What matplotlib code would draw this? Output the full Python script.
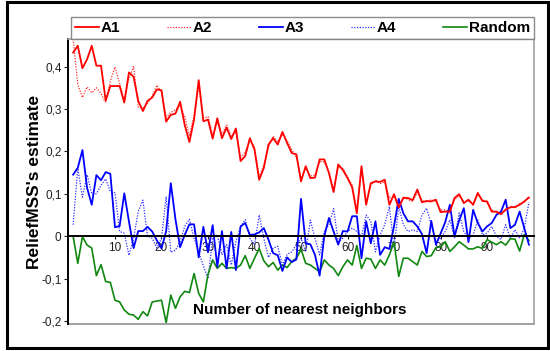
import numpy as np
import matplotlib
matplotlib.use('Agg')
import matplotlib.pyplot as plt
from matplotlib.patches import Rectangle
from matplotlib.ticker import FuncFormatter

plt.rcParams['font.family'] = ['Liberation Sans', 'DejaVu Sans']

# number of nearest neighbors k = 1..99
k = np.arange(1, 100)

a1 = [0.433, 0.449, 0.396, 0.417, 0.449, 0.402, 0.402, 0.320, 0.354, 0.354,
      0.354, 0.315, 0.386, 0.376, 0.319, 0.295, 0.319, 0.327, 0.346, 0.344,
      0.270, 0.286, 0.289, 0.317, 0.262, 0.222, 0.275, 0.368, 0.271, 0.275,
      0.230, 0.278, 0.231, 0.256, 0.229, 0.254, 0.177, 0.189, 0.231, 0.204,
      0.133, 0.161, 0.216, 0.231, 0.216, 0.246, 0.220, 0.196, 0.193, 0.129,
      0.165, 0.137, 0.138, 0.181, 0.181, 0.149, 0.104, 0.169, 0.156, 0.137,
      0.115, 0.054, 0.165, 0.074, 0.125, 0.129, 0.128, 0.133, 0.074, 0.099,
      0.068, 0.090, 0.090, 0.085, 0.110, 0.080, 0.083, 0.082, 0.086, 0.057,
      0.058, 0.058, 0.090, 0.099, 0.078, 0.086, 0.074, 0.102, 0.083, 0.082,
      0.058, 0.058, 0.052, 0.063, 0.068, 0.069, 0.074, 0.082, 0.091]

a2 = [0.465, 0.358, 0.327, 0.352, 0.338, 0.350, 0.336, 0.315, 0.366, 0.399,
      0.360, 0.320, 0.372, 0.400, 0.305, 0.302, 0.313, 0.330, 0.356, 0.340,
      0.280, 0.292, 0.298, 0.308, 0.282, 0.236, 0.285, 0.355, 0.278, 0.282,
      0.238, 0.268, 0.241, 0.262, 0.236, 0.245, 0.185, 0.198, 0.226, 0.210,
      0.140, 0.168, 0.210, 0.236, 0.222, 0.240, 0.226, 0.204, 0.186, 0.136,
      0.160, 0.142, 0.144, 0.176, 0.175, 0.152, 0.110, 0.163, 0.160, 0.140,
      0.120, 0.060, 0.158, 0.080, 0.120, 0.132, 0.124, 0.128, 0.090, 0.094,
      0.064, 0.094, 0.086, 0.082, 0.104, 0.084, 0.080, 0.086, 0.082, 0.062,
      0.062, 0.055, 0.086, 0.095, 0.082, 0.082, 0.078, 0.098, 0.086, 0.078,
      0.062, 0.055, 0.056, 0.060, 0.071, 0.066, 0.077, 0.079, 0.094]

a3 = [0.145, 0.161, 0.203, 0.114, 0.074, 0.144, 0.132, 0.151, 0.147, 0.021,
      0.024, 0.101, 0.035, -0.028, 0.012, 0.012, 0.022, 0.011, -0.010, -0.029,
      0.012, 0.125, 0.040, -0.026, 0.003, 0.028, 0.028, -0.050, 0.022, -0.038,
      0.026, -0.072, 0.012, -0.076, 0.010, -0.080, 0.023, 0.031, 0.003, 0.004,
      0.009, 0.019, -0.008, -0.040, -0.045, -0.082, -0.050, -0.061, -0.055, 0.088,
      -0.017, -0.019, -0.044, -0.093, 0.000, 0.043, 0.011, -0.020, 0.012, 0.011,
      0.047, 0.047, -0.052, 0.035, -0.017, 0.035, -0.044, -0.026, -0.030, 0.024,
      0.088, 0.054, 0.035, 0.035, 0.023, 0.005, -0.040, 0.036, -0.020, 0.006,
      0.033, 0.074, 0.000, 0.037, 0.066, -0.014, 0.062, 0.031, 0.011, 0.023,
      0.031, 0.050, 0.058, 0.086, 0.019, 0.027, 0.058, 0.019, -0.020]

a4 = [0.027, 0.160, 0.092, 0.145, 0.100, 0.100, 0.120, 0.135, 0.105, 0.102,
      0.011, 0.007, -0.045, -0.005, 0.058, 0.085, 0.000, -0.005, -0.028, -0.005,
      0.093, -0.038, -0.033, -0.013, 0.023, 0.040, -0.005, -0.037, -0.070, -0.100,
      -0.005, 0.003, -0.044, -0.020, -0.068, -0.013, 0.023, 0.039, -0.005, -0.020,
      0.050, -0.005, -0.050, -0.028, -0.024, -0.068, -0.043, -0.037, -0.020, -0.005,
      -0.037, 0.038, -0.005, -0.044, 0.011, 0.027, 0.065, -0.013, -0.005, 0.011,
      0.019, 0.011, -0.001, 0.050, 0.035, -0.037, 0.003, 0.027, 0.070, -0.028,
      0.070, 0.027, 0.011, 0.015, 0.011, 0.050, 0.066, 0.027, -0.013, -0.005,
      0.011, 0.039, -0.005, 0.055, 0.011, -0.005, 0.003, 0.038, 0.003, 0.007,
      0.023, 0.000, -0.008, 0.027, -0.005, 0.015, -0.005, 0.019, 0.080]

rnd = [0.000, -0.064, -0.001, -0.021, -0.028, -0.093, -0.067, -0.107, -0.109, -0.151,
       -0.155, -0.174, -0.184, -0.186, -0.196, -0.178, -0.188, -0.155, -0.153, -0.151,
       -0.204, -0.139, -0.170, -0.143, -0.130, -0.133, -0.088, -0.135, -0.155, -0.090,
       -0.056, -0.076, -0.064, -0.076, -0.074, -0.076, -0.068, -0.046, -0.076, -0.052,
       -0.029, -0.058, -0.072, -0.062, -0.080, -0.068, -0.074, -0.060, -0.052, -0.031,
       -0.064, -0.068, -0.076, -0.084, -0.056, -0.068, -0.076, -0.093, -0.072, -0.056,
       -0.068, -0.022, -0.076, -0.052, -0.054, -0.076, -0.056, -0.068, -0.044, -0.014,
       -0.095, -0.052, -0.052, -0.060, -0.068, -0.036, -0.048, -0.046, -0.027, -0.025,
       -0.013, -0.036, -0.025, -0.013, -0.021, -0.030, -0.030, -0.025, -0.029, -0.008,
       -0.014, -0.020, -0.013, -0.021, -0.006, -0.007, -0.035, 0.004, -0.010]

fig = plt.figure(figsize=(5.5, 3.51), dpi=100)
ax = fig.add_axes([0.1245, 0.077, 0.8465, 0.812])

ax.plot(k, a2, color='#ff3030', lw=0.9, ls=(0, (1, 1.2)), label='A2')
ax.plot(k, a4, color='#3030ff', lw=0.9, ls=(0, (1, 1.2)), label='A4')
ax.plot(k, rnd, color='#108810', lw=1.2, label='Random')
ax.plot(k, a3, color='#0000ff', lw=1.3, label='A3')
ax.plot(k, a1, color='#ff0000', lw=1.3, label='A1')

ax.set_xlim(0, 100.1)
ax.set_ylim(-0.207, 0.465)

# x axis crosses at zero, grey box around plot area
ax.spines['bottom'].set_position(('data', 0))
ax.spines['bottom'].set_color('black')
ax.spines['bottom'].set_linewidth(1.4)
ax.spines['left'].set_color('black')
ax.spines['left'].set_linewidth(1.4)
for s in ['top', 'right']:
    ax.spines[s].set_color('#a0a0a0')
    ax.spines[s].set_linewidth(1.2)
ax.plot([0, 1], [0, 0], transform=ax.transAxes, color='#a0a0a0', lw=1.4,
        clip_on=False)

ax.set_xticks(range(10, 100, 10))
ax.set_yticks([-0.2, -0.1, 0, 0.1, 0.2, 0.3, 0.4])
ax.yaxis.set_major_formatter(FuncFormatter(
    lambda v, _: '0' if abs(v) < 1e-9 else f'{v:.1f}'.replace('.', ',')))
ax.tick_params(axis='x', length=2, pad=2, labelsize=8.5, colors='#202020')
ax.tick_params(axis='y', length=3, pad=2, labelsize=8.5, colors='#202020')

ax.set_ylabel("ReliefMSS's estimate", fontsize=12.5, fontweight='bold')
ax.yaxis.set_label_coords(-0.057, 0.5)
ax.text(0.497, 0.05, 'Number of nearest neighbors', transform=ax.transAxes,
        ha='center', va='center', fontsize=11, fontweight='bold')

h, l = ax.get_legend_handles_labels()
order = [l.index(n) for n in ['A1', 'A2', 'A3', 'A4', 'Random']]
leg = fig.legend([h[i] for i in order], [l[i] for i in order],
                 loc='lower left', bbox_to_anchor=(0.129, 0.889, 0.842, 0.0655),
                 mode='expand', ncol=5, borderaxespad=0, fancybox=False,
                 borderpad=0.25, handlelength=1.6, handletextpad=0.1,
                 prop={'weight': 'bold', 'size': 11})
leg.get_frame().set_edgecolor('#707070')
leg.get_frame().set_linewidth(1.0)

fig.patches.append(Rectangle((0.012, 0.009), 0.984, 0.984, transform=fig.transFigure,
                             fill=False, edgecolor='black', lw=2.2))

fig.savefig('out.png', dpi=100)
